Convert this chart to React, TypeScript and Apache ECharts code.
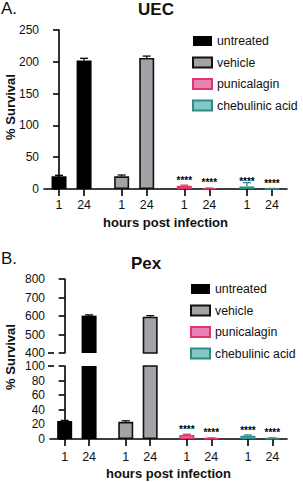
import React, { useEffect, useRef } from 'react';
import * as echarts from 'echarts';

// ---- data ----
const treatments = ['untreated', 'vehicle', 'punicalagin', 'chebulinic acid'];
const hourLabels = ['1', '24'];
// means per treatment: [1 h, 24 h]
const uecUntreated = [20, 202];
const uecVehicle = [20, 206];
const uecPunicalagin = [5, 1];
const uecChebulinic = [4, 0.5];
const uecSd = [[1.5, 3.5], [2, 3], [1, 0.5], [6, 0.3]];
const pexUntreated = [24.5, 602];
const pexVehicle = [23.5, 596];
const pexPunicalagin = [5.5, 1];
const pexChebulinic = [4.5, 1];
const pexSd = [[1, 4], [1.5, 6], [1, 0.5], [1, 0.5]];
const significant = [[false, false], [false, false], [true, true], [true, true]];
const uecTicks = { min: 0, max: 250, interval: 50 };
const pexUpperTicks = { min: 400, max: 800, interval: 100 };
const pexLowerTicks = { min: 0, max: 100, interval: 20 };

const uecMeans = [uecUntreated, uecVehicle, uecPunicalagin, uecChebulinic];
const pexMeans = [pexUntreated, pexVehicle, pexPunicalagin, pexChebulinic];

// ---- style ----
const FONT = "'Liberation Sans', Arial, sans-serif";
const fills = ['#000000', '#a3a3a7', '#e884b5', '#84c7c2'];
const borders = ['#000000', '#111111', '#e2346d', '#2f8b85'];
const GROUP_STEP = 2.5;
const X_MIN = -0.6;
const X_MAX = 9.1;

const xOf = (g: number, h: number) => g * GROUP_STEP + h;
const tickValues = treatments.flatMap((_, g) => hourLabels.map((_, h) => xOf(g, h)));
const labelFor = (v: number) => {
  const i = tickValues.findIndex((t) => Math.abs(t - v) < 1e-6);
  return i >= 0 ? hourLabels[i % hourLabels.length] : '';
};

const axisLineStyle = { color: '#000', width: 1.6 };

function xAxisDef(gridIndex: number, show: boolean, margin: number, nameGap: number) {
  return {
    type: 'value',
    gridIndex,
    show,
    min: X_MIN,
    max: X_MAX,
    splitLine: { show: false },
    axisLine: { show: true, lineStyle: axisLineStyle },
    axisTick: { show: true, length: 7, lineStyle: axisLineStyle, customValues: tickValues },
    axisLabel: {
      show: true,
      customValues: tickValues,
      formatter: (v: number) => labelFor(v),
      fontSize: 12.5,
      color: '#111',
      margin,
      fontFamily: FONT,
    },
    name: 'hours post infection',
    nameLocation: 'middle',
    nameGap,
    nameTextStyle: { fontSize: 13, fontWeight: 'bold', color: '#111', fontFamily: FONT },
  };
}

function yAxisDef(gridIndex: number, t: { min: number; max: number; interval: number }) {
  return {
    type: 'value',
    gridIndex,
    min: t.min,
    max: t.max,
    interval: t.interval,
    splitLine: { show: false },
    axisLine: { show: true, lineStyle: axisLineStyle },
    axisTick: { show: true, length: 6, lineStyle: axisLineStyle },
    axisLabel: { fontSize: 12, color: '#111', margin: 5, fontFamily: FONT },
  };
}

function barSeries(axisIndex: number, means: number[][], withStars: boolean) {
  return treatments.map((name, g) => ({
    type: 'bar',
    name,
    xAxisIndex: axisIndex,
    yAxisIndex: axisIndex,
    barWidth: 15,
    barGap: '-100%',
    clip: true,
    data: hourLabels.map((_, h) => ({
      value: [xOf(g, h), means[g][h]],
      label: {
        show: withStars && significant[g][h],
        position: 'top',
        distance: 0,
        formatter: '****',
        fontSize: 10,
        fontWeight: 'bold',
        color: '#000',
        fontFamily: FONT,
      },
    })),
    itemStyle: { color: fills[g], borderColor: borders[g], borderWidth: g === 0 ? 0 : 1.6 },
    z: 2,
  }));
}

function errorSeries(axisIndex: number, means: number[][], sd: number[][]) {
  const data = treatments.flatMap((_, g) => hourLabels.map((_, h) => [xOf(g, h), means[g][h], sd[g][h], g]));
  return {
    type: 'custom',
    xAxisIndex: axisIndex,
    yAxisIndex: axisIndex,
    clip: true,
    z: 3,
    data,
    renderItem: (params: any, api: any) => {
      const x = api.value(0);
      const m = api.value(1);
      const s = api.value(2);
      const g = api.value(3);
      const top = api.coord([x, m + s]);
      const base = api.coord([x, m]);
      const style = { stroke: borders[g], lineWidth: 1.3 };
      return {
        type: 'group',
        children: [
          { type: 'line', shape: { x1: top[0], y1: base[1], x2: top[0], y2: top[1] }, style },
          { type: 'line', shape: { x1: top[0] - 4, y1: top[1], x2: top[0] + 4, y2: top[1] }, style },
        ],
      };
    },
  };
}

function breakMark(axisIndex: number, value: number) {
  return {
    type: 'custom',
    xAxisIndex: axisIndex,
    yAxisIndex: axisIndex,
    clip: false,
    z: 4,
    data: [[X_MIN, value]],
    renderItem: (params: any, api: any) => {
      const p = api.coord([api.value(0), api.value(1)]);
      return {
        type: 'line',
        shape: { x1: p[0] - 2, y1: p[1], x2: p[0] + 4, y2: p[1] },
        style: { stroke: '#000', lineWidth: 1.6 },
      };
    },
  };
}

function legendDef(left: number, top: number) {
  return {
    data: treatments,
    orient: 'vertical',
    left,
    top,
    padding: 0,
    icon: 'rect',
    itemWidth: 19,
    itemHeight: 10,
    itemGap: 9.5,
    selectedMode: false,
    textStyle: { fontSize: 12.3, color: '#111', fontFamily: FONT },
  };
}

const titleStyle = (size: number, weight: string) => ({ fontSize: size, fontWeight: weight, color: '#111', fontFamily: FONT });
const yNameStyle = { text: '% Survival', fontSize: 13, fontWeight: 'bold', fill: '#111', fontFamily: FONT, align: 'center', verticalAlign: 'middle' };

export default function App() {
  const ref = useRef<HTMLDivElement>(null);
  useEffect(() => {
    if (!ref.current) return;
    const chart = echarts.init(ref.current, undefined, { renderer: 'svg' });
    chart.setOption({
      animation: false,
      backgroundColor: '#fff',
      textStyle: { fontFamily: FONT },
      title: [
        { text: 'A.', left: 1, top: 0, padding: 0, textStyle: titleStyle(17, 'normal') },
        { text: 'UEC', left: 156, top: 1, padding: 0, textAlign: 'center', textStyle: titleStyle(17, 'bold') },
        { text: 'B.', left: 1, top: 250, padding: 0, textStyle: titleStyle(17, 'normal') },
        { text: 'Pex', left: 146, top: 255, padding: 0, textAlign: 'center', textStyle: titleStyle(17, 'bold') },
      ],
      legend: [legendDef(192, 35), legendDef(190, 283)],
      grid: [
        { left: 44, right: 16, top: 30, height: 159 },
        { left: 50, right: 16, top: 279, height: 74 },
        { left: 50, right: 16, top: 366, height: 73 },
      ],
      xAxis: [xAxisDef(0, true, 9, 27), xAxisDef(1, false, 9, 27), xAxisDef(2, true, 11, 28)],
      yAxis: [yAxisDef(0, uecTicks), yAxisDef(1, pexUpperTicks), yAxisDef(2, pexLowerTicks)],
      graphic: [
        { type: 'text', x: 10, y: 107, rotation: Math.PI / 2, style: yNameStyle },
        { type: 'text', x: 10, y: 357, rotation: Math.PI / 2, style: yNameStyle },
      ],
      series: [
        ...barSeries(0, uecMeans, true),
        errorSeries(0, uecMeans, uecSd),
        ...barSeries(1, pexMeans, false),
        errorSeries(1, pexMeans, pexSd),
        ...barSeries(2, pexMeans, true),
        errorSeries(2, pexMeans, pexSd),
        breakMark(1, pexUpperTicks.min),
        breakMark(2, pexLowerTicks.max),
      ],
    });
    return () => chart.dispose();
  }, []);
  return <div ref={ref} style={{ position: 'fixed', left: 0, top: 0, width: 303, height: 482 }} />;
}
